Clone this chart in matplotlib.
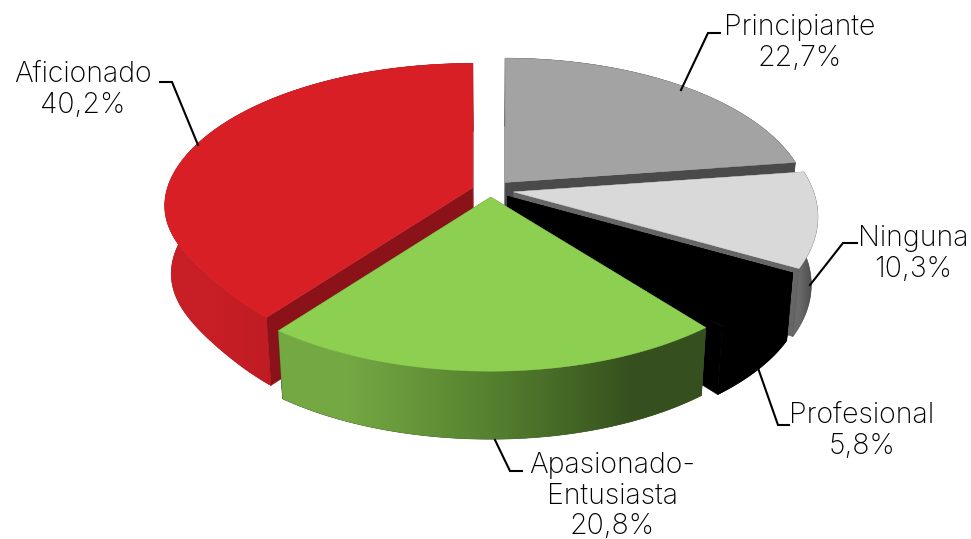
import numpy as np
import matplotlib
matplotlib.use("Agg")
import matplotlib.pyplot as plt
from matplotlib.colors import to_rgb
from matplotlib.patches import Polygon

labels = ["Principiante", "Ninguna", "Profesional", "Apasionado-\nEntusiasta", "Aficionado"]
values = [22.7, 10.3, 5.8, 20.8, 40.2]
explode = [0.077, 0.08, 0.075, 0.055, 0.06]
flatten = [0, 0, 0, 0, 0.045]

top_colors = ["#a3a3a3", "#d9d9d9", "#000000", "#8dcf50", "#d81f26"]
wall_colors = ["#4a4a4a", "#666666", "#000000", "#3e5a22", "#8c1219"]
side_stops = [
    ["#4a4a4a", "#4a4a4a"],
    ["#6a6a6a", "#4d4d4d"],
    ["#000000", "#000000"],
    ["#74a842", "#55812f", "#35501e"],
    ["#c81e26", "#b81a22", "#a5161c"],
]
draw_order = [0, 1, 2, 4, 3]

# label text centre, leader line start / elbow / end
label_pos = [(800, 43), (913, 254), (862, 431), (612, 496), (83, 90)]
leaders = [
    [(720, 33), (708, 33), (681, 90)],
    [(857, 243), (843, 243), (810, 285)],
    [(789, 425), (778, 425), (758, 368)],
    [(522, 471), (510, 471), (495, 440)],
    [(160, 82), (172, 82), (198, 145)],
]

CX, CY = 490, 190
RX, RY = 300, 145
K = 0.167
DEPTH = 68
SHRINK = 0.98
EXPLODE_Y = 130


def project(a, flat_amount):
    # the reference's 3d is a bit skewed towards the lower left
    d = np.degrees(a)
    a = a + np.radians(np.interp(d, [118.8, 140, 216, 360], [0, 1.5, 2, 0]))
    d = np.degrees(a)
    X, Y = np.sin(a), np.cos(a)
    s = 1 / (1 + K * Y)
    rx = np.where(X < 0, RX * 1.02, RX)
    flat = 1 - flat_amount * np.exp(-((d - 232) / 22) ** 2)
    return rx * X * s * flat, -RY * Y * s * flat


def down(x, y):
    return CX + (x - CX) * SHRINK, y + DEPTH


def gradient(stops):
    return np.array([to_rgb(c) for c in stops])[None, :, :]


fig = plt.figure(figsize=(9.71, 5.39), dpi=100)
ax = fig.add_axes([0, 0, 1, 1])
ax.axis("off")

total = sum(values)
edges = np.concatenate([[0], np.cumsum(values)]) / total * 2 * np.pi

z = 1
for i in draw_order:
    a0, a1 = edges[i], edges[i + 1]
    mid = (a0 + a1) / 2
    apex_x = CX + RX * explode[i] * np.sin(mid)
    apex_y = CY - EXPLODE_Y * explode[i] * np.cos(mid)
    angles = np.linspace(a0, a1, 150)
    dx, dy = project(angles, flatten[i])
    xs, ys = apex_x + dx, apex_y + dy

    # radial walls
    for j in (0, -1):
        pts = [(apex_x, apex_y), (xs[j], ys[j]), down(xs[j], ys[j]), down(apex_x, apex_y)]
        ax.add_patch(Polygon(pts, fc=wall_colors[i], ec=wall_colors[i], lw=0.3, zorder=z))
        z += 1

    # outer side, gradient clipped to the side outline, solid base under it hides seams
    bx, by = down(xs, ys)
    outline = np.column_stack([np.concatenate([xs, bx[::-1]]), np.concatenate([ys, by[::-1]])])
    base = side_stops[i][-1]
    side = Polygon(outline, fc=base, ec=base, lw=0.4, zorder=z)
    ax.add_patch(side)
    z += 1
    im = ax.imshow(gradient(side_stops[i]),
                   extent=[min(xs.min(), bx.min()), max(xs.max(), bx.max()), by.max(), ys.min()],
                   aspect="auto", interpolation="bilinear", zorder=z)
    im.set_clip_path(side)
    z += 1

    top = np.column_stack([np.r_[apex_x, xs], np.r_[apex_y, ys]])
    ax.add_patch(Polygon(top, fc=top_colors[i], ec=top_colors[i], lw=0.3, zorder=z))
    z += 1

for line in leaders:
    ax.plot([p[0] for p in line], [p[1] for p in line], color="black", lw=1.5,
            solid_joinstyle="miter", zorder=z)

for name, val, pos in zip(labels, values, label_pos):
    text = f"{name}\n{val:.1f}%".replace(".", ",")
    ax.text(pos[0], pos[1], text, ha="center", va="center", fontsize=20.5, family="Inter",
            fontweight="light", color="black", linespacing=1.17, zorder=z)

ax.set_xlim(0, 971)
ax.set_ylim(539, 0)
fig.savefig("out.png", dpi=100)
